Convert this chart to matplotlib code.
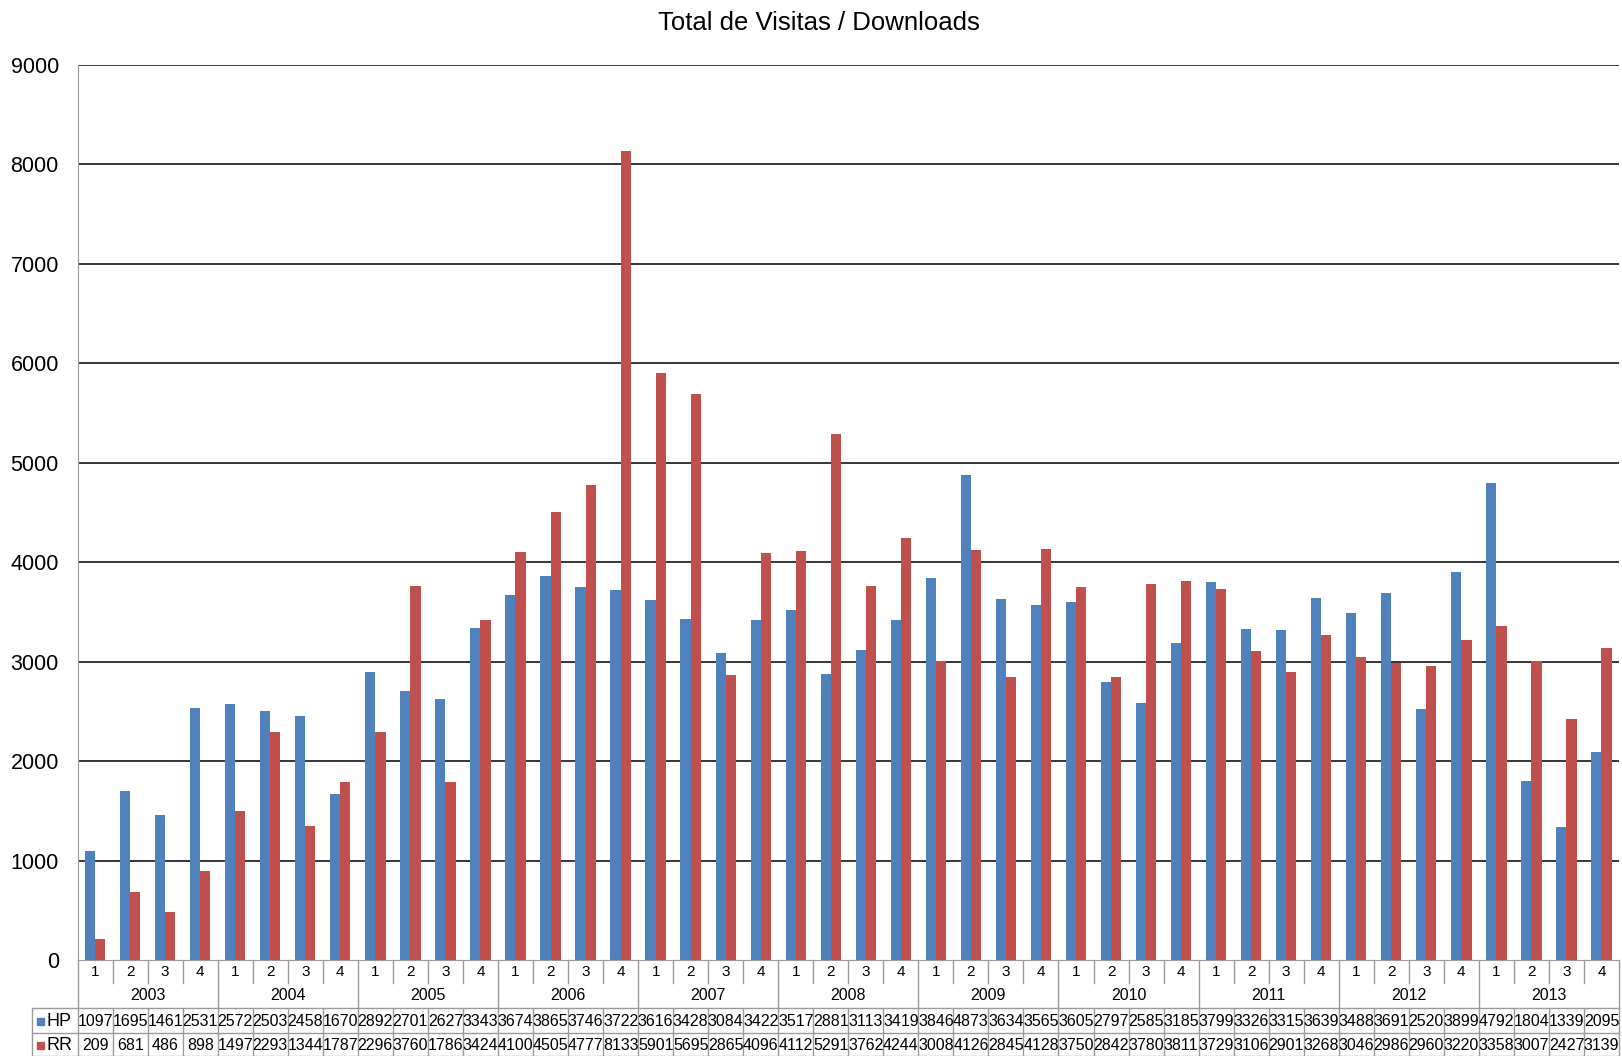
import numpy as np
import matplotlib
matplotlib.use('Agg')
import matplotlib.pyplot as plt
import matplotlib.transforms as mtransforms

plt.rcParams['font.family'] = ['Liberation Sans', 'DejaVu Sans']

# 数据
years = ['2003', '2004', '2005', '2006', '2007', '2008', '2009', '2010', '2011', '2012', '2013']
quarters = ['1', '2', '3', '4']
hp = [1097, 1695, 1461, 2531, 2572, 2503, 2458, 1670, 2892, 2701, 2627, 3343,
      3674, 3865, 3746, 3722, 3616, 3428, 3084, 3422, 3517, 2881, 3113, 3419,
      3846, 4873, 3634, 3565, 3605, 2797, 2585, 3185, 3799, 3326, 3315, 3639,
      3488, 3691, 2520, 3899, 4792, 1804, 1339, 2095]
rr = [209, 681, 486, 898, 1497, 2293, 1344, 1787, 2296, 3760, 1786, 3424,
      4100, 4505, 4777, 8133, 5901, 5695, 2865, 4096, 4112, 5291, 3762, 4244,
      3008, 4126, 2845, 4128, 3750, 2842, 3780, 3811, 3729, 3106, 2901, 3268,
      3046, 2986, 2960, 3220, 3358, 3007, 2427, 3139]

blue = '#4F81BD'
red = '#C0504D'
grey = '#9a9a9a'

W, H = 1622, 1056
fig = plt.figure(figsize=(W / 100, H / 100), dpi=100)
ax_l, ax_r, ax_t, ax_b = 77.6, 1619, 65, 960
ax = fig.add_axes([ax_l / W, 1 - ax_b / H, (ax_r - ax_l) / W, (ax_b - ax_t) / H])
ah = ax_b - ax_t
aw = ax_r - ax_l

n = len(hp)
x = np.arange(n)
bw = 0.29
ax.bar(x - bw / 2, hp, bw, color=blue, zorder=3)
ax.bar(x + bw / 2, rr, bw, color=red, zorder=3)

ax.set_xlim(-0.5, n - 0.5)
ax.set_ylim(0, 9000)
ax.set_yticks(range(0, 9001, 1000))
ax.tick_params(axis='y', length=0, labelsize=15.5, pad=13.5)
ax.set_xticks([])
for y in range(1000, 9001, 1000):
    ax.axhline(y, color='black', lw=1.1, zorder=2)
for s in ['top', 'right']:
    ax.spines[s].set_visible(False)
ax.spines['left'].set_color(grey)
ax.spines['bottom'].set_color(grey)

fig.text(0.505, 1 - 23 / H, 'Total de Visitas / Downloads', ha='center', va='center', fontsize=18.5)

# 底部数据表
tr = mtransforms.blended_transform_factory(ax.transData, ax.transAxes)
def py(p):
    return (ax_b - p) / ah

def px(p):
    return (p - ax_l) / aw

kw = dict(clip_on=False, color=grey, lw=1)
for i in range(n + 1):
    xb = i - 0.5
    if i % 4 == 0:
        ax.plot([xb, xb], [py(960), py(1056)], transform=tr, **kw)
    else:
        ax.plot([xb, xb], [py(960), py(983)], transform=tr, **kw)
        ax.plot([xb, xb], [py(1008), py(1056)], transform=tr, **kw)
for yy in [1008, 1033, 1055.5]:
    ax.plot([px(32), 1], [py(yy), py(yy)], transform=ax.transAxes, **kw)
ax.plot([px(32), px(32)], [py(1008), py(1056)], transform=ax.transAxes, **kw)

for i in range(n):
    ax.text(i, py(972), quarters[i % 4], transform=tr, ha='center', va='center', fontsize=11)
    ax.text(i, py(1021), str(hp[i]), transform=tr, ha='center', va='center', fontsize=11.5)
    ax.text(i, py(1045), str(rr[i]), transform=tr, ha='center', va='center', fontsize=11.5)
for j, yr in enumerate(years):
    ax.text(j * 4 + 1.5, py(996), yr, transform=tr, ha='center', va='center', fontsize=11.5)

for lab, col, yy in [('HP', blue, 1021), ('RR', red, 1045)]:
    ax.add_patch(plt.Rectangle((px(37), py(yy) - 3.5 / ah), 7 / aw, 7 / ah,
                               transform=ax.transAxes, color=col, clip_on=False))
    ax.text(px(46), py(yy), lab, transform=ax.transAxes, ha='left', va='center', fontsize=13)

fig.savefig('out.png', dpi=100)
